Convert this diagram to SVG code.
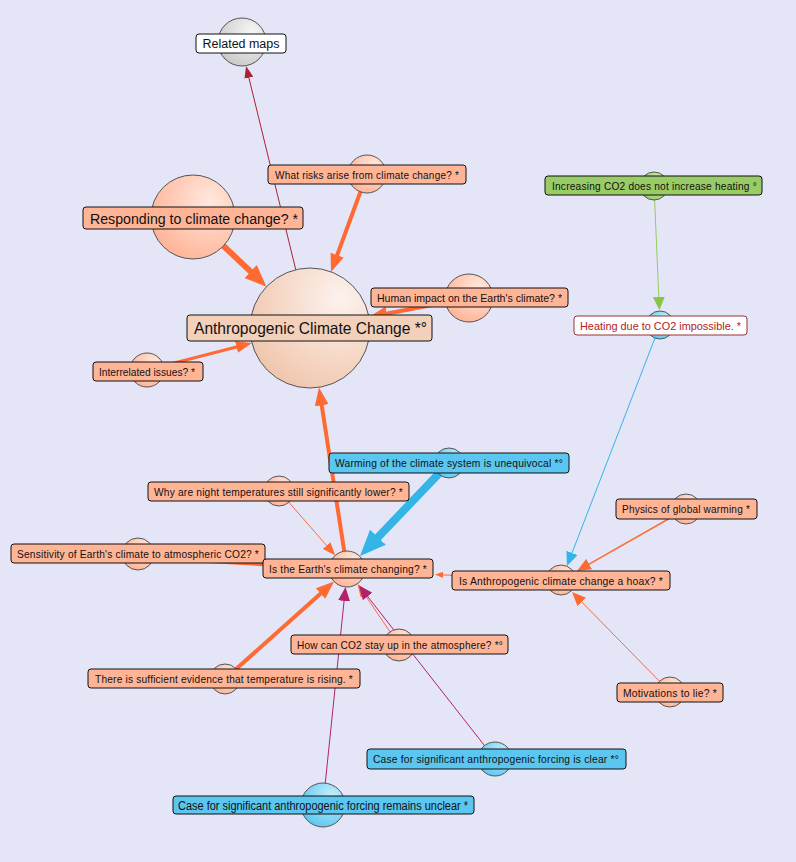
<svg xmlns="http://www.w3.org/2000/svg" width="796" height="862" viewBox="0 0 796 862">
<style>
  .bg{fill:#e5e5f8}
  .circ{stroke:#555;stroke-width:1}
  .lbl{stroke:#111;stroke-width:1}
  .or-box{fill:#ffb496}
  .bl-box{fill:#5bc6ef}
  .gr-box{fill:#99cc66}
  text{font-family:"Liberation Sans",Arial,sans-serif;fill:#111;text-anchor:middle}
  .sm{font-size:10.5px;letter-spacing:0.2px}
  .md{font-size:11px}
  .e{fill:none}
  .or{stroke:#ff6a33}
  .bl{stroke:#33b5e8}
  .pu{stroke:#b0226b}
  .rd{stroke:#aa2233}
  .gn{stroke:#94cc5c}
</style>
<defs>
  <radialGradient id="gOr" cx="0.7" cy="0.3" r="0.8">
    <stop offset="0" stop-color="#ffe8de"/>
    <stop offset="1" stop-color="#ffb294"/>
  </radialGradient>
  <radialGradient id="gMain" cx="0.75" cy="0.25" r="0.85">
    <stop offset="0" stop-color="#fcf2ee"/>
    <stop offset="1" stop-color="#f0c6ac"/>
  </radialGradient>
  <radialGradient id="gBl" cx="0.7" cy="0.3" r="0.8">
    <stop offset="0" stop-color="#c6eefb"/>
    <stop offset="1" stop-color="#5bc6ef"/>
  </radialGradient>
  <radialGradient id="gGr" cx="0.7" cy="0.3" r="0.8">
    <stop offset="0" stop-color="#d2efb4"/>
    <stop offset="1" stop-color="#99cc66"/>
  </radialGradient>
  <radialGradient id="gGy" cx="0.7" cy="0.3" r="0.8">
    <stop offset="0" stop-color="#f6f6f6"/>
    <stop offset="1" stop-color="#c8c8c8"/>
  </radialGradient>
  <marker id="aRd" viewBox="0 0 12 9" markerWidth="12" markerHeight="9" refX="2" refY="4.5" orient="auto" markerUnits="userSpaceOnUse"><path d="M0,0 L12,4.5 L0,9 z" fill="#aa2233"/></marker>
  <marker id="aOrXs" viewBox="0 0 8 6" markerWidth="8" markerHeight="6" refX="2" refY="3" orient="auto" markerUnits="userSpaceOnUse"><path d="M0,0 L8,3 L0,6 z" fill="#ff6a33"/></marker>
  <marker id="aOrS" viewBox="0 0 13 10" markerWidth="13" markerHeight="10" refX="2" refY="5" orient="auto" markerUnits="userSpaceOnUse"><path d="M0,0 L13,5 L0,10 z" fill="#ff6a33"/></marker>
  <marker id="aOrS2" viewBox="0 0 14 12" markerWidth="14" markerHeight="12" refX="2" refY="6" orient="auto" markerUnits="userSpaceOnUse"><path d="M0,0 L14,6 L0,12 z" fill="#ff6a33"/></marker>
  <marker id="aOrM3" viewBox="0 0 16 12" markerWidth="16" markerHeight="12" refX="2" refY="6" orient="auto" markerUnits="userSpaceOnUse"><path d="M0,0 L16,6 L0,12 z" fill="#ff6a33"/></marker>
  <marker id="aOrM" viewBox="0 0 18 14" markerWidth="18" markerHeight="14" refX="2" refY="7" orient="auto" markerUnits="userSpaceOnUse"><path d="M0,0 L18,7 L0,14 z" fill="#ff6a33"/></marker>
  <marker id="aOrL" viewBox="0 0 22 18" markerWidth="22" markerHeight="18" refX="2" refY="9" orient="auto" markerUnits="userSpaceOnUse"><path d="M0,0 L22,9 L0,18 z" fill="#ff6a33"/></marker>
  <marker id="aBlS" viewBox="0 0 14 12" markerWidth="14" markerHeight="12" refX="2" refY="6" orient="auto" markerUnits="userSpaceOnUse"><path d="M0,0 L14,6 L0,12 z" fill="#33b5e8"/></marker>
  <marker id="aBlL" viewBox="0 0 26 22" markerWidth="26" markerHeight="22" refX="2" refY="11" orient="auto" markerUnits="userSpaceOnUse"><path d="M0,0 L26,11 L0,22 z" fill="#33b5e8"/></marker>
  <marker id="aGn" viewBox="0 0 13 12" markerWidth="13" markerHeight="12" refX="2" refY="6" orient="auto" markerUnits="userSpaceOnUse"><path d="M0,0 L13,6 L0,12 z" fill="#88c548"/></marker>
  <marker id="aPu" viewBox="0 0 14 12" markerWidth="14" markerHeight="12" refX="2" refY="6" orient="auto" markerUnits="userSpaceOnUse"><path d="M0,0 L14,6 L0,12 z" fill="#b0226b"/></marker>
</defs>
<rect class="bg" x="0" y="0" width="796" height="862"/>

<g id="connectors">
  <path class="e rd" stroke-width="1" d="M310,328 L248.4,75.7" marker-end="url(#aRd)"/>
  <path class="e or" stroke-width="4" d="M367,174 L336.5,257" marker-end="url(#aOrM)"/>
  <path class="e or" stroke-width="6" d="M193,217 L252,272.9" marker-end="url(#aOrL)"/>
  <path class="e or" stroke-width="4" d="M469,298 L384.7,314" marker-end="url(#aOrM)"/>
  <path class="e or" stroke-width="3" d="M147,370 L238.4,346.5" marker-end="url(#aOrM3)"/>
  <path class="e or" stroke-width="4" d="M347,569 L321.4,403.3" marker-end="url(#aOrM)"/>
  <path class="e bl" stroke-width="8" d="M449,463 L376.6,538.7" marker-end="url(#aBlL)"/>
  <path class="e or" stroke-width="1" d="M279,491 L328,547.1" marker-end="url(#aOrS)"/>
  <path class="e or" stroke-width="4" d="M138,557 L315,567.2" marker-end="url(#aOrM3)"/>
  <path class="e or" stroke-width="1" d="M561,580 L441,574.8" marker-end="url(#aOrXs)"/>
  <path class="e bl" stroke-width="1" d="M660,325 L571.3,554.8" marker-end="url(#aBlS)"/>
  <path class="e gn" stroke-width="1" d="M654,186 L658.9,299" marker-end="url(#aGn)"/>
  <path class="e or" stroke-width="1.5" d="M686,509 L587.4,565.1" marker-end="url(#aOrS2)"/>
  <path class="e or" stroke-width="1" d="M670,692 L580.4,600.6" marker-end="url(#aOrS2)"/>
  <path class="e or" stroke-width="4" d="M225,679 L322.1,592.2" marker-end="url(#aOrM)"/>
  <path class="e or" stroke-width="1" d="M399,645 L363.7,593.1" marker-end="url(#aOrS)"/>
  <path class="e pu" stroke-width="1" d="M495,759 L366.4,594.9" marker-end="url(#aPu)"/>
  <path class="e pu" stroke-width="1" d="M323,805 L344.3,598.9" marker-end="url(#aPu)"/>
</g>

<g id="n-related">
  <circle class="circ" cx="242" cy="42" r="24" fill="url(#gGy)"/>
  <rect class="lbl" x="196" y="34" width="90" height="19" rx="3" fill="#ffffff"/>
  <text x="241" y="48" font-size="12" textLength="77" lengthAdjust="spacingAndGlyphs">Related maps</text>
</g>
<g id="n-risks">
  <circle class="circ" cx="367" cy="174" r="19" fill="url(#gOr)"/>
  <rect class="lbl or-box" x="268" y="165" width="198" height="19" rx="3"/>
  <text class="sm" x="367" y="178.5" textLength="184" lengthAdjust="spacingAndGlyphs">What risks arise from climate change? *</text>
</g>
<g id="n-responding">
  <circle class="circ" cx="193" cy="217" r="42" fill="url(#gOr)"/>
  <rect class="lbl or-box" x="83" y="207" width="220" height="22" rx="3"/>
  <text x="194" y="223.5" font-size="15.5" textLength="208" lengthAdjust="spacingAndGlyphs">Responding to climate change? *</text>
</g>
<g id="n-anthropogenic">
  <circle class="circ" cx="310" cy="328" r="60" fill="url(#gMain)"/>
  <rect class="lbl" x="187" y="315" width="245" height="26" rx="3" fill="#f2d0ba"/>
  <text x="310.5" y="333.5" font-size="16.5" textLength="233" lengthAdjust="spacingAndGlyphs">Anthropogenic Climate Change *°</text>
</g>
<g id="n-human">
  <circle class="circ" cx="469" cy="298" r="24" fill="url(#gOr)"/>
  <rect class="lbl or-box" x="371" y="288" width="197" height="19" rx="3"/>
  <text class="md" x="469.5" y="302" textLength="185" lengthAdjust="spacingAndGlyphs">Human impact on the Earth's climate? *</text>
</g>
<g id="n-interrelated">
  <circle class="circ" cx="147" cy="370" r="17" fill="url(#gOr)"/>
  <rect class="lbl or-box" x="93" y="362" width="110" height="19" rx="3"/>
  <text class="md" x="147" y="375.5" textLength="96" lengthAdjust="spacingAndGlyphs">Interrelated issues? *</text>
</g>
<g id="n-increasing">
  <circle class="circ" cx="654" cy="186" r="14" fill="url(#gGr)"/>
  <rect class="lbl gr-box" x="545" y="176" width="217" height="19" rx="3"/>
  <text class="sm" x="654.5" y="189.5" textLength="205" lengthAdjust="spacingAndGlyphs">Increasing CO2 does not increase heating °</text>
</g>
<g id="n-heating">
  <circle class="circ" cx="660" cy="325" r="14" fill="url(#gBl)"/>
  <rect x="574" y="316" width="173" height="19" rx="3" fill="#ffffff" stroke="#993333" stroke-width="1"/>
  <text class="md" x="660.5" y="329.5" textLength="161" lengthAdjust="spacingAndGlyphs" style="fill:#b22222">Heating due to CO2 impossible. *</text>
</g>
<g id="n-warming">
  <circle class="circ" cx="449" cy="463" r="15" fill="url(#gBl)"/>
  <rect class="lbl bl-box" x="329" y="453" width="240" height="20" rx="3"/>
  <text class="sm" x="449" y="467" textLength="228" lengthAdjust="spacingAndGlyphs">Warming of the climate system is unequivocal *°</text>
</g>
<g id="n-night">
  <circle class="circ" cx="279" cy="491" r="15" fill="url(#gOr)"/>
  <rect class="lbl or-box" x="148" y="482" width="261" height="19" rx="3"/>
  <text class="sm" x="278.5" y="495.5" textLength="249" lengthAdjust="spacingAndGlyphs">Why are night temperatures still significantly lower? *</text>
</g>
<g id="n-physics">
  <circle class="circ" cx="686" cy="509" r="15" fill="url(#gOr)"/>
  <rect class="lbl or-box" x="616" y="499" width="141" height="20" rx="3"/>
  <text class="sm" x="686" y="513" textLength="128" lengthAdjust="spacingAndGlyphs">Physics of global warming *</text>
</g>
<g id="n-sensitivity">
  <circle class="circ" cx="138" cy="554" r="16" fill="url(#gOr)"/>
  <rect class="lbl or-box" x="11" y="544" width="254" height="19" rx="3"/>
  <text class="sm" x="138" y="557.5" textLength="242" lengthAdjust="spacingAndGlyphs">Sensitivity of Earth's climate to atmospheric CO2? *</text>
</g>
<g id="n-changing">
  <circle class="circ" cx="347" cy="569" r="18" fill="url(#gOr)"/>
  <rect class="lbl or-box" x="263" y="559" width="170" height="19" rx="3"/>
  <text class="sm" x="348" y="572.5" textLength="158" lengthAdjust="spacingAndGlyphs">Is the Earth's climate changing? *</text>
</g>
<g id="n-hoax">
  <circle class="circ" cx="561" cy="580" r="15" fill="url(#gOr)"/>
  <rect class="lbl or-box" x="452" y="571" width="218" height="19" rx="3"/>
  <text class="sm" x="561" y="584.5" textLength="204" lengthAdjust="spacingAndGlyphs">Is Anthropogenic climate change a hoax? *</text>
</g>
<g id="n-motivations">
  <circle class="circ" cx="670" cy="692" r="15" fill="url(#gOr)"/>
  <rect class="lbl or-box" x="617" y="683" width="106" height="19" rx="3"/>
  <text class="sm" x="670" y="696.5" textLength="94" lengthAdjust="spacingAndGlyphs">Motivations to lie? *</text>
</g>
<g id="n-stayup">
  <circle class="circ" cx="399" cy="645" r="16" fill="url(#gOr)"/>
  <rect class="lbl or-box" x="291" y="635" width="217" height="19" rx="3"/>
  <text class="sm" x="400" y="649" textLength="206" lengthAdjust="spacingAndGlyphs">How can CO2 stay up in the atmosphere? *°</text>
</g>
<g id="n-evidence">
  <circle class="circ" cx="225" cy="679" r="15" fill="url(#gOr)"/>
  <rect class="lbl or-box" x="88" y="669" width="272" height="19" rx="3"/>
  <text class="sm" x="224" y="682.5" textLength="258" lengthAdjust="spacingAndGlyphs">There is sufficient evidence that temperature is rising. *</text>
</g>
<g id="n-clear">
  <circle class="circ" cx="495" cy="759" r="17" fill="url(#gBl)"/>
  <rect class="lbl bl-box" x="367" y="749" width="259" height="20" rx="3"/>
  <text class="sm" x="496" y="763" textLength="246" lengthAdjust="spacingAndGlyphs">Case for significant anthropogenic forcing is clear *°</text>
</g>
<g id="n-unclear">
  <circle class="circ" cx="323" cy="805" r="22" fill="url(#gBl)"/>
  <rect class="lbl bl-box" x="173" y="796" width="301" height="18" rx="3"/>
  <text x="323" y="809.5" font-size="12.5" textLength="290" lengthAdjust="spacingAndGlyphs">Case for significant anthropogenic forcing remains unclear *</text>
</g>
</svg>
